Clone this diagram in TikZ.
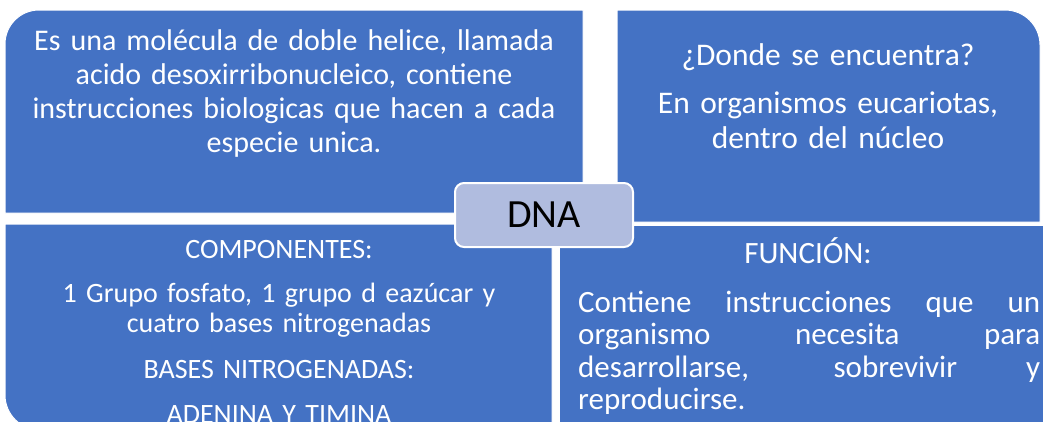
\documentclass[tikz,border=0pt]{standalone}
\usepackage{fontspec}
\setmainfont{Carlito}
\definecolor{azulcaja}{HTML}{4472C4}
\definecolor{liladna}{RGB}{176,188,223}
\begin{document}
\begin{tikzpicture}[x=1pt,y=1pt,every node/.style={text=white,inner sep=0pt},
	caja/.style={fill=azulcaja,draw=white,line width=1pt},
	txt/.style={anchor=base,text width=600pt,align=center}]
	\useasboundingbox(0,0)rectangle(1043,-421);
	\clip(0,0)rectangle(1043,-421);
	%cajas
	\filldraw[caja](5,-213)--(5,-44)arc[start angle=180,end angle=90,radius=34]--(583,-10)--(583,-213)--cycle;
	\filldraw[caja](617,-10)--(1005,-10)arc[start angle=90,end angle=0,radius=35]--(1040,-222)--(617,-222)--cycle;
	\filldraw[caja](5,-224)--(552,-224)--(552,-430)--(40,-430)arc[start angle=270,end angle=180,radius=35]--cycle;
	\filldraw[caja](559,-225)--(1050,-225)--(1050,-430)--(559,-430)--cycle;
	%textos
	\node[txt,font=\fontsize{30}{34}\selectfont](definicion)at(294,-50){Es una molécula de doble helice, llamada\\acido desoxirribonucleico, contiene\\instrucciones biologicas que hacen a cada\\especie unica.};
	\node[txt,font=\fontsize{31.5}{35}\selectfont](donde)at(828,-65){¿Donde se encuentra?\\[13pt]En organismos eucariotas,\\dentro del núcleo};
	\node[txt,font=\fontsize{28}{30}\selectfont](componentes)at(279,-258){COMPONENTES:\\[14pt]1 Grupo fosfato, 1 grupo d eazúcar y\\cuatro bases nitrogenadas\\[16pt]BASES NITROGENADAS:\\[15pt]ADENINA Y TIMINA};
	\node[txt,font=\fontsize{31}{32.5}\selectfont](funcion)at(808,-263){FUNCIÓN:};
	\node[anchor=base west,text width=462pt,align=justify,font=\fontsize{31}{32.5}\selectfont](funciontxt)at(578,-312){Contiene instrucciones que un\linebreak organismo necesita para\linebreak desarrollarse, sobrevivir y\linebreak reproducirse.};
	\node[fill=liladna,draw=white,line width=2pt,rounded corners=9pt,minimum width=178pt,minimum height=64pt,text=black,font=\fontsize{40}{48}\selectfont](dna)at(544,-215){DNA};
\end{tikzpicture}
\end{document}
